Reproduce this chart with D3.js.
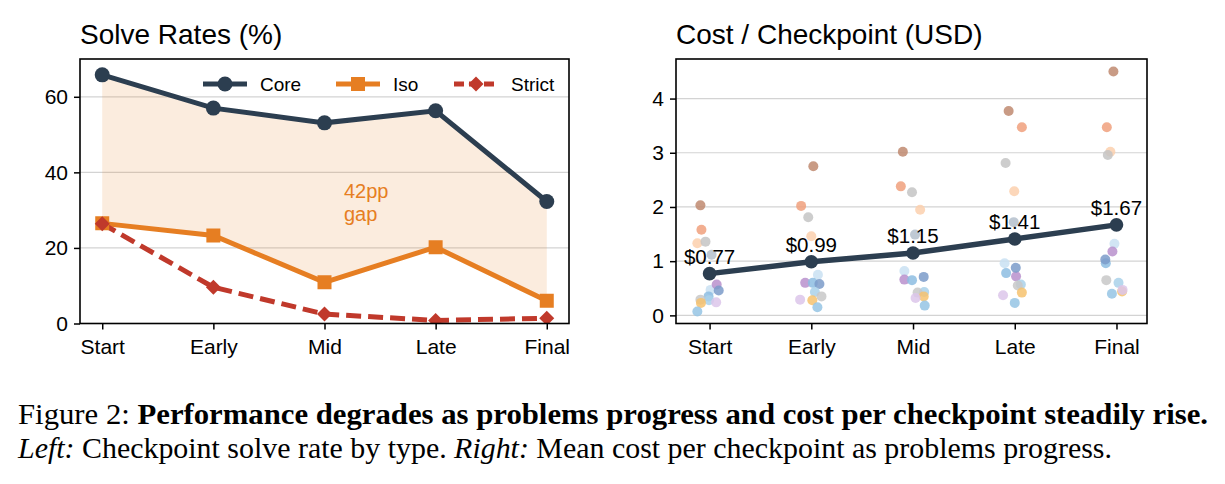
<!DOCTYPE html>
<html>
<head>
<meta charset="utf-8">
<script src="https://cdn.jsdelivr.net/npm/d3@7"></script>
<style>
  body { margin: 0; background: #fff; }
  svg { display: block; font-family: "Liberation Sans", Arial, Helvetica, sans-serif; }
  .caption { font-family: "Liberation Serif", "Times New Roman", serif; }
</style>
</head>
<body>
<div id="chart"></div>
<script>
// ---- data ----
const stages = ["Start", "Early", "Mid", "Late", "Final"];

// solve rates (%)
const coreRate = [65.8, 57.0, 53.1, 56.3, 32.3];
const isoRate = [26.5, 23.3, 10.9, 20.2, 6.0];
const strictRate = [26.4, 9.6, 2.5, 0.8, 1.4];
const gapLabel = ["42pp", "gap"];
const solveTicks = [0, 20, 40, 60];

// mean cost per checkpoint (USD)
const meanCost = [0.77, 0.99, 1.15, 1.41, 1.67];
const costTicks = [0, 1, 2, 3, 4];

// per-model cost at each stage, jitter = horizontal offset in stage units
const modelNames = ["m1", "m2", "m3", "m4", "m5", "m6", "m7", "m8", "m9", "m10", "m11", "m12", "m13", "m14"];
const modelColors = ["#bf8a70", "#f0a07c", "#fcd0ae", "#c4c4c4", "#b4bfcc", "#c9e0f2", "#b891cc",
                     "#8dbde2", "#7b9bc9", "#a9d1ea", "#c8c8c8", "#f6c26e", "#dcc6ea", "#95c4e4"];
const modelCost = [
  [2.03, 2.75, 3.02, 3.77, 4.50],
  [1.58, 2.02, 2.38, 3.47, 3.47],
  [1.33, 1.46, 1.95, 2.29, 3.02],
  [1.36, 1.81, 2.27, 2.81, 2.96],
  [1.12, null, 1.49, 1.72, null],
  [0.47, 0.75, 0.82, 0.96, 1.32],
  [0.57, 0.60, 0.66, 0.72, 1.18],
  [0.35, 0.60, 0.65, 0.78, 0.96],
  [0.46, 0.58, 0.71, 0.88, 1.03],
  [0.28, 0.43, 0.43, 0.57, 0.60],
  [0.29, 0.35, 0.42, 0.55, 0.65],
  [0.23, 0.28, 0.35, 0.42, 0.44],
  [0.24, 0.29, 0.32, 0.37, 0.47],
  [0.07, 0.15, 0.18, 0.23, 0.40]
];
const modelJitter = [
  [-0.09, 0.02, -0.10, -0.06, -0.03],
  [-0.08, -0.10, -0.12, 0.07, -0.095],
  [-0.12, 0.00, 0.07, -0.005, -0.06],
  [-0.04, -0.03, -0.01, -0.09, -0.085],
  [0.02, 0, 0.02, -0.01, 0],
  [0.01, 0.065, -0.085, -0.10, -0.02],
  [0.07, -0.06, -0.085, 0.013, -0.04],
  [-0.01, 0.015, -0.01, -0.085, -0.105],
  [0.09, 0.08, 0.105, 0.01, -0.11],
  [-0.005, 0.035, 0.11, 0.06, 0.02],
  [-0.09, 0.10, 0.045, 0.03, -0.10],
  [-0.085, 0.01, 0.105, 0.07, 0.055],
  [0.065, -0.11, 0.025, -0.115, 0.06],
  [-0.12, 0.06, 0.115, 0.00, -0.045]
];

const colors = { core: "#2c3e50", iso: "#e67e22", strict: "#c0392b" };

const width = 1225, height = 484;
const svg = d3.select("#chart").append("svg")
  .attr("width", width)
  .attr("height", height);

// shared frame helper: gridlines, axes, title
function makeFrame(id, box, x, y, yTicks, title) {
  const g = svg.append("g");

  g.append("clipPath").attr("id", id)
    .append("rect")
    .attr("x", box.left).attr("y", box.top)
    .attr("width", box.right - box.left).attr("height", box.bottom - box.top);

  g.selectAll("line.grid")
    .data(yTicks)
    .join("line")
    .attr("class", "grid")
    .attr("x1", box.left).attr("x2", box.right)
    .attr("y1", d => y(d)).attr("y2", d => y(d))
    .attr("stroke", "#d3d3d3")
    .attr("stroke-width", 1.2);

  const xAxis = g.append("g")
    .attr("transform", `translate(0,${box.bottom})`)
    .call(d3.axisBottom(x).tickValues(d3.range(stages.length)).tickFormat(i => stages[i]).tickSize(6).tickPadding(5));
  const yAxis = g.append("g")
    .attr("transform", `translate(${box.left},0)`)
    .call(d3.axisLeft(y).tickValues(yTicks).tickFormat(d3.format("d")).tickSize(6).tickPadding(6));
  [xAxis, yAxis].forEach(a => {
    a.select(".domain").remove();
    a.selectAll("line").attr("stroke", "#000").attr("stroke-width", 1.5);
    a.selectAll("text").attr("fill", "#000").style("font-size", "21px");
  });
  xAxis.selectAll("text").attr("dy", "0.95em");

  g.append("text")
    .attr("x", box.left)
    .attr("y", 44)
    .style("font-size", "28px")
    .text(title);

  return g;
}

function addBox(box) {
  svg.append("rect")
    .attr("x", box.left).attr("y", box.top)
    .attr("width", box.right - box.left).attr("height", box.bottom - box.top)
    .attr("fill", "none")
    .attr("stroke", "#000")
    .attr("stroke-width", 1.6);
}

// ---------------- left: solve rates ----------------
const boxL = { left: 80, right: 569, top: 59, bottom: 323.5 };
const xL = d3.scaleLinear().domain([-0.2, 4.2]).range([boxL.left, boxL.right]);
const yL = d3.scaleLinear().domain([0, 70]).range([boxL.bottom, boxL.top]);

makeFrame("clipL", boxL, xL, yL, solveTicks, "Solve Rates (%)");
const plotL = svg.append("g").attr("clip-path", "url(#clipL)");

// shaded gap between core and iso
plotL.append("path")
  .datum(stages.map((s, i) => i))
  .attr("d", d3.area().x(i => xL(i)).y0(i => yL(isoRate[i])).y1(i => yL(coreRate[i])))
  .attr("fill", colors.iso)
  .attr("fill-opacity", 0.15);

const lineL = vals => d3.line().x((d, i) => xL(i)).y(d => yL(d))(vals);

function squarePath(s) { return `M${-s},${-s}H${s}V${s}H${-s}Z`; }
function diamondPath(s) { return `M0,${-s}L${s},0L0,${s}L${-s},0Z`; }

const seriesL = [
  { key: "core", vals: coreRate, marker: "circle", dash: null },
  { key: "iso", vals: isoRate, marker: "square", dash: null },
  { key: "strict", vals: strictRate, marker: "diamond", dash: "15,7" }
];

seriesL.forEach(s => {
  plotL.append("path")
    .attr("d", lineL(s.vals))
    .attr("fill", "none")
    .attr("stroke", colors[s.key])
    .attr("stroke-width", 5)
    .attr("stroke-dasharray", s.dash);
});
// draw markers after lines (strict sits on top of iso at Start)
seriesL.forEach(s => {
  const m = plotL.selectAll(null).data(s.vals).join(s.marker === "circle" ? "circle" : "path")
    .attr("fill", colors[s.key]);
  if (s.marker === "circle") {
    m.attr("cx", (d, i) => xL(i)).attr("cy", d => yL(d)).attr("r", 7.5);
  } else {
    m.attr("transform", (d, i) => `translate(${xL(i)},${yL(d)})`)
      .attr("d", s.marker === "square" ? squarePath(7) : diamondPath(7.5));
  }
});

svg.append("text")
  .attr("x", 344)
  .attr("y", 198)
  .attr("fill", colors.iso)
  .style("font-size", "20px")
  .selectAll("tspan")
  .data(gapLabel)
  .join("tspan")
  .attr("x", 344)
  .attr("dy", (d, i) => i === 0 ? 0 : 23)
  .text(d => d);

// legend
const legendItems = [
  { key: "core", label: "Core", x: 203, marker: "circle", dash: null },
  { key: "iso", label: "Iso", x: 336, marker: "square", dash: null },
  { key: "strict", label: "Strict", x: 454, marker: "diamond", dash: "10,5" }
];
const legY = 84;
legendItems.forEach(it => {
  svg.append("line")
    .attr("x1", it.x).attr("x2", it.x + 44)
    .attr("y1", legY).attr("y2", legY)
    .attr("stroke", colors[it.key])
    .attr("stroke-width", 5)
    .attr("stroke-dasharray", it.dash);
  if (it.marker === "circle") {
    svg.append("circle").attr("cx", it.x + 22).attr("cy", legY).attr("r", 7.5).attr("fill", colors[it.key]);
  } else {
    svg.append("path")
      .attr("transform", `translate(${it.x + 22},${legY})`)
      .attr("d", it.marker === "square" ? squarePath(7) : diamondPath(7.5))
      .attr("fill", colors[it.key]);
  }
  svg.append("text")
    .attr("x", it.x + 57)
    .attr("y", legY + 7)
    .style("font-size", "19px")
    .text(it.label);
});

addBox(boxL);

// ---------------- right: cost per checkpoint ----------------
const boxR = { left: 676, right: 1147, top: 59, bottom: 323.5 };
const xR = d3.scaleLinear().domain([-0.33, 4.30]).range([boxR.left, boxR.right]);
const yR = d3.scaleLinear().domain([-0.15, 4.73]).range([boxR.bottom, boxR.top]);

makeFrame("clipR", boxR, xR, yR, costTicks, "Cost / Checkpoint (USD)");
const plotR = svg.append("g").attr("clip-path", "url(#clipR)");

const points = [];
modelCost.forEach((row, m) => {
  row.forEach((v, i) => {
    if (v !== null) points.push({ model: modelNames[m], color: modelColors[m], stage: i, value: v, jitter: modelJitter[m][i] });
  });
});

plotR.selectAll("circle.pt")
  .data(points)
  .join("circle")
  .attr("class", "pt")
  .attr("cx", d => xR(d.stage + d.jitter))
  .attr("cy", d => yR(d.value))
  .attr("r", 5)
  .attr("fill", d => d.color)
  .attr("fill-opacity", 0.85);

plotR.append("path")
  .attr("d", d3.line().x((d, i) => xR(i)).y(d => yR(d))(meanCost))
  .attr("fill", "none")
  .attr("stroke", colors.core)
  .attr("stroke-width", 5.5);

plotR.selectAll("circle.mean")
  .data(meanCost)
  .join("circle")
  .attr("class", "mean")
  .attr("cx", (d, i) => xR(i))
  .attr("cy", d => yR(d))
  .attr("r", 6.8)
  .attr("fill", colors.core);

svg.selectAll("text.costlabel")
  .data(meanCost)
  .join("text")
  .attr("class", "costlabel")
  .attr("x", (d, i) => xR(i))
  .attr("y", d => yR(d) - 10)
  .attr("text-anchor", "middle")
  .style("font-size", "20.5px")
  .text(d => "$" + d.toFixed(2));

addBox(boxR);

// ---------------- caption ----------------
const cap1 = svg.append("text").attr("class", "caption")
  .attr("x", 18).attr("y", 424)
  .attr("textLength", 1190)
  .attr("lengthAdjust", "spacingAndGlyphs")
  .style("font-size", "30px");
cap1.append("tspan").text("Figure 2: ");
cap1.append("tspan").attr("font-weight", "bold")
  .text("Performance degrades as problems progress and cost per checkpoint steadily rise.");

const cap2 = svg.append("text").attr("class", "caption")
  .attr("x", 18).attr("y", 458)
  .attr("textLength", 1094)
  .attr("lengthAdjust", "spacingAndGlyphs")
  .style("font-size", "30px");
cap2.append("tspan").attr("font-style", "italic").text("Left:");
cap2.append("tspan").text(" Checkpoint solve rate by type. ");
cap2.append("tspan").attr("font-style", "italic").text("Right:");
cap2.append("tspan").text(" Mean cost per checkpoint as problems progress.");
</script>
</body>
</html>
